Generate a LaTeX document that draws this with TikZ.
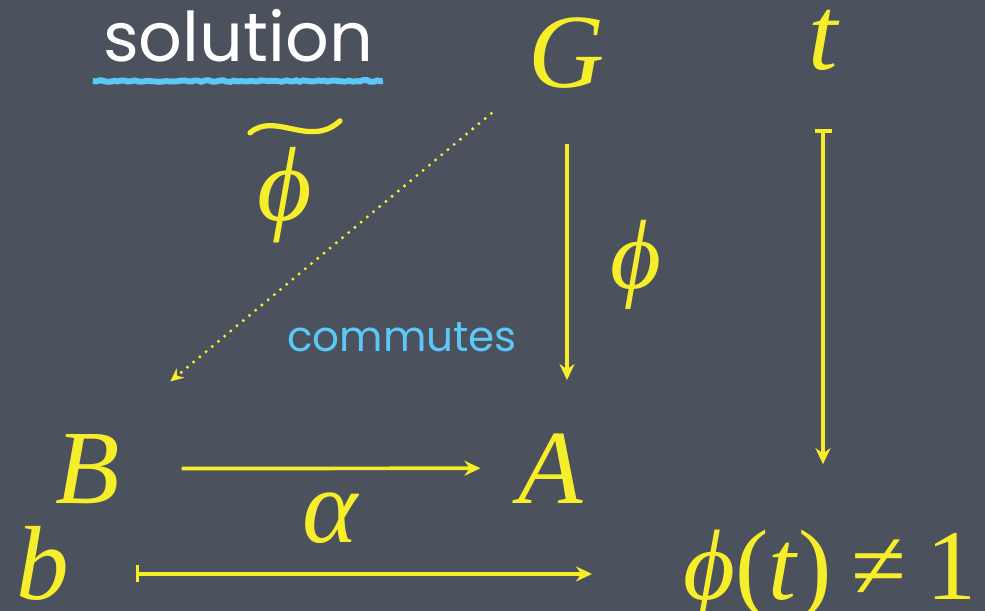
\documentclass[tikz,border=0pt]{standalone}
\usepackage{fontspec}
\setmainfont{Liberation Serif}
\newfontfamily\handfont{Poppins}
\usetikzlibrary{arrows.meta, positioning, decorations.pathmorphing}
\definecolor{boardgray}{HTML}{4B515D}
\definecolor{chalkyellow}{HTML}{F7EE2B}
\definecolor{chalkblue}{HTML}{5CC8F7}

\begin{document}
\begin{tikzpicture}[x=0.02cm, y=-0.02cm, >=Stealth,
  sym/.style={text=chalkyellow, font=\fontsize{60}{60}\selectfont\itshape, inner sep=0pt},
  map/.style={chalkyellow, line width=2.1pt, -{Stealth[length=0.32cm, width=0.3cm]}},
  mapsto/.style={map, {Bar[width=0.34cm]}-{Stealth[length=0.32cm, width=0.3cm]}}]
  \fill[boardgray] (0,0) rectangle (985,611);
  \useasboundingbox (0,0) rectangle (985,611);

  % heading
  \node[text=white, font=\handfont\fontsize{39}{39}\selectfont, anchor=base]
    (sol) at (238,62) {solution};
  \draw[chalkblue, line width=3.4pt, decorate,
        decoration={random steps, segment length=2pt, amplitude=0.5pt}]
    (sol.base west) ++(-4,19) -- ++(290,0);

  % objects
  \node[sym, anchor=base] (G) at (567,88) {G};
  \node[sym, anchor=base] (t) at (823,70) {t};
  \node[sym, anchor=base] (B) at (88,503) {B};
  \node[sym, anchor=base] (A) at (551,503) {A};
  \node[sym, anchor=base, text depth=0pt] (b) at (43,600) {b};
  \node[sym, font=\fontsize{57}{57}\selectfont\itshape, anchor=base west] (phit) at (683,600)
    {ϕ\textup{(}t\textup{)}\hspace{0.2em}\textup{≠}\hspace{0.2em}\textup{1}};

  % labels
  \node[sym, font=\fontsize{56}{56}\selectfont\itshape] (philab) at (636,265) {ϕ};
  \node[sym] (alpha) at (330,518) {α};
  \node[sym] (phitil) at (285,195) {ϕ};
  \begin{scope}[shift={(phitil.north)}]
    \draw[chalkyellow, line width=3pt, line cap=round]
      (-35,-14) .. controls (-10,-36) and (25,2) .. (55,-26);
  \end{scope}
  \node[text=chalkblue, font=\handfont\fontsize{24}{24}\selectfont]
    (comm) at (402,337) {commutes};

  % maps
  \draw[map, shorten <=1.1cm, shorten >=1.06cm] (G.south) -- (G.south |- A.north);
  \draw[map, shorten <=1.22cm, shorten >=0.76cm] (B.east) -- (A.west);
  \draw[chalkyellow, line width=1.9pt, line cap=round, dash pattern=on 0pt off 4.6pt,
        -{Stealth[length=0.26cm, width=0.24cm]}, shorten <=0.97cm, shorten >=1.3cm]
    ([yshift=4pt]G.south west) -- ([yshift=6pt]B.north east);
  \draw[mapsto, shorten <=1.16cm, shorten >=1.32cm] (t.south) -- (t.south |- phit.north);
  \draw[mapsto, shorten <=1.32cm, shorten >=1.82cm]
    ([yshift=-6pt]b.east) -- ([yshift=-6pt]b.east -| phit.west);
\end{tikzpicture}
\end{document}
